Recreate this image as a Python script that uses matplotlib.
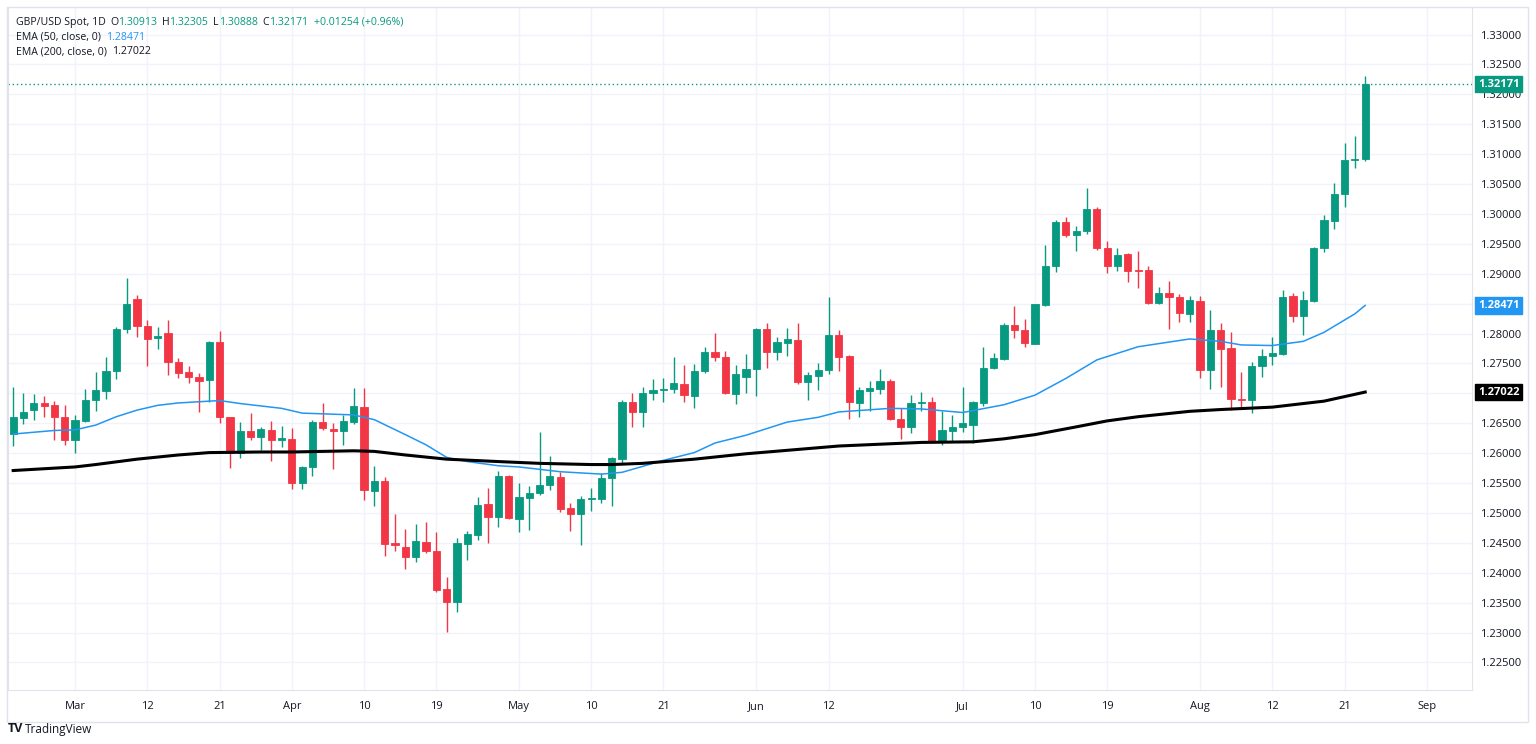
import numpy as np
import matplotlib
matplotlib.use("Agg")
import matplotlib.pyplot as plt
from matplotlib.patches import Rectangle
from matplotlib.transforms import blended_transform_factory

plt.rcParams['font.family'] = ['Open Sans', 'DejaVu Sans']

# daily GBP/USD candles, first bar 2024-02-22, weekdays only
start_date = '2024-02-22'
opens = [1.26323, 1.26596, 1.26719, 1.26847, 1.26803, 1.26607, 1.26223, 1.26530, 1.26881, 1.27047,
         1.27376, 1.28072, 1.28574, 1.28128, 1.27928, 1.28006, 1.27526, 1.27354, 1.27276, 1.27225,
         1.27860, 1.26607, 1.26004, 1.26367, 1.26267, 1.26389, 1.26222, 1.26245, 1.25509, 1.25766,
         1.26529, 1.26406, 1.26378, 1.26529, 1.26779, 1.25370, 1.25537, 1.24496, 1.24429, 1.24267,
         1.24512, 1.24368, 1.23733, 1.23504, 1.24485, 1.24629, 1.25142, 1.24930, 1.25621, 1.24897,
         1.25253, 1.25331, 1.25465, 1.25604, 1.25081, 1.24975, 1.25237, 1.25237, 1.25582, 1.25905,
         1.26857, 1.26685, 1.27002, 1.27052, 1.27075, 1.27153, 1.26958, 1.27375, 1.27693, 1.27615,
         1.26986, 1.27281, 1.27404, 1.28078, 1.27699, 1.27850, 1.27889, 1.27193, 1.27298, 1.27388,
         1.27978, 1.27621, 1.26847, 1.27048, 1.27070, 1.27204, 1.26569, 1.26441, 1.26847, 1.26853,
         1.26207, 1.26379, 1.26441, 1.26479, 1.26835, 1.27420, 1.27577, 1.28140, 1.28068, 1.27834,
         1.28480, 1.29137, 1.29867, 1.29650, 1.29716, 1.30084, 1.29438, 1.29137, 1.29332, 1.29065,
         1.29059, 1.28508, 1.28680, 1.28613, 1.28335, 1.28547, 1.27388, 1.28056, 1.27756, 1.26903,
         1.26894, 1.27451, 1.27618, 1.27651, 1.28631, 1.28286, 1.28553, 1.29428, 1.29890, 1.30341,
         1.30898, 1.30913]
highs = [1.27103, 1.27003, 1.26992, 1.26964, 1.26875, 1.26814, 1.26635, 1.27070, 1.27354, 1.27605,
         1.28106, 1.28930, 1.28646, 1.28228, 1.28106, 1.28228, 1.27588, 1.27465, 1.27337, 1.27883,
         1.28039, 1.26613, 1.26520, 1.26679, 1.26434, 1.26545, 1.26456, 1.26423, 1.25788, 1.26557,
         1.26835, 1.26501, 1.26640, 1.27086, 1.27086, 1.25788, 1.25599, 1.24991, 1.24730, 1.24819,
         1.24852, 1.24685, 1.23928, 1.24579, 1.24696, 1.25264, 1.25420, 1.25699, 1.25632, 1.25509,
         1.25443, 1.26351, 1.25955, 1.25682, 1.25164, 1.25276, 1.25415, 1.25671, 1.25933, 1.26891,
         1.27002, 1.27114, 1.27247, 1.27259, 1.27604, 1.27470, 1.27498, 1.27771, 1.28005, 1.27704,
         1.27470, 1.27660, 1.28085, 1.28173, 1.27939, 1.28089, 1.28173, 1.27365, 1.27516, 1.28607,
         1.28061, 1.27638, 1.27103, 1.27209, 1.27404, 1.27237, 1.26753, 1.26975, 1.27025, 1.26936,
         1.26702, 1.26646, 1.27114, 1.26875, 1.27771, 1.27682, 1.28173, 1.28457, 1.28246, 1.28500,
         1.29482, 1.29900, 1.29950, 1.29800, 1.30440, 1.30123, 1.29549, 1.29427, 1.29349, 1.29382,
         1.29126, 1.28780, 1.28881, 1.28669, 1.28636, 1.28636, 1.28396, 1.28179, 1.28029, 1.27355,
         1.27517, 1.27740, 1.27941, 1.28732, 1.28676, 1.28715, 1.29456, 1.29979, 1.30514, 1.31182,
         1.31305, 1.32305]
lows = [1.26123, 1.26491, 1.26557, 1.26613, 1.26223, 1.26129, 1.26000, 1.26520, 1.26713, 1.26908,
        1.27237, 1.28017, 1.27950, 1.27460, 1.27744, 1.27309, 1.27253, 1.27181, 1.26684, 1.26852,
        1.26506, 1.25759, 1.25926, 1.26223, 1.26055, 1.25866, 1.26111, 1.25409, 1.25409, 1.25626,
        1.26389, 1.25743, 1.26133, 1.26495, 1.25209, 1.25120, 1.24273, 1.24368, 1.24061, 1.24184,
        1.24329, 1.23671, 1.23003, 1.23337, 1.24217, 1.24551, 1.24496, 1.24774, 1.24897, 1.24674,
        1.24719, 1.25298, 1.25387, 1.25019, 1.24696, 1.24462, 1.25031, 1.25175, 1.25109, 1.25833,
        1.26434, 1.26445, 1.26891, 1.26863, 1.27002, 1.26863, 1.26763, 1.27336, 1.27548, 1.26991,
        1.26819, 1.27013, 1.26953, 1.27432, 1.27560, 1.27627, 1.27165, 1.26881, 1.27059, 1.27326,
        1.27382, 1.26569, 1.26602, 1.26708, 1.26998, 1.26558, 1.26235, 1.26335, 1.26708, 1.26168,
        1.26140, 1.26195, 1.26351, 1.26168, 1.26796, 1.27410, 1.27550, 1.27923, 1.27772, 1.27825,
        1.28469, 1.29026, 1.29622, 1.29388, 1.29672, 1.29404, 1.29009, 1.29048, 1.28870, 1.28770,
        1.28502, 1.28502, 1.28073, 1.28201, 1.28201, 1.27265, 1.27076, 1.27104, 1.26725, 1.26760,
        1.26671, 1.27272, 1.27478, 1.27640, 1.28186, 1.27980, 1.28520, 1.29372, 1.29745, 1.30113,
        1.30765, 1.30888]
closes = [1.26613, 1.26697, 1.26847, 1.26791, 1.26602, 1.26223, 1.26557, 1.26892, 1.27059, 1.27382,
          1.28078, 1.28496, 1.28134, 1.27911, 1.27956, 1.27521, 1.27343, 1.27282, 1.27209, 1.27860,
          1.26602, 1.26004, 1.26367, 1.26272, 1.26400, 1.26222, 1.26250, 1.25509, 1.25771, 1.26518,
          1.26417, 1.26373, 1.26545, 1.26791, 1.25387, 1.25537, 1.24485, 1.24457, 1.24256, 1.24535,
          1.24362, 1.23716, 1.23504, 1.24490, 1.24641, 1.25131, 1.24930, 1.25621, 1.24908, 1.25264,
          1.25337, 1.25471, 1.25621, 1.25075, 1.24975, 1.25231, 1.25253, 1.25588, 1.25916, 1.26857,
          1.26690, 1.27002, 1.27058, 1.27080, 1.27169, 1.26969, 1.27375, 1.27693, 1.27615, 1.27002,
          1.27320, 1.27409, 1.28078, 1.27699, 1.27861, 1.27906, 1.27193, 1.27304, 1.27393, 1.27978,
          1.27616, 1.26853, 1.27053, 1.27087, 1.27204, 1.26569, 1.26441, 1.26842, 1.26858, 1.26207,
          1.26390, 1.26441, 1.26501, 1.26853, 1.27426, 1.27593, 1.28145, 1.28062, 1.27850, 1.28491,
          1.29137, 1.29872, 1.29650, 1.29716, 1.30084, 1.29427, 1.29137, 1.29315, 1.29053, 1.29053,
          1.28508, 1.28675, 1.28619, 1.28346, 1.28558, 1.27388, 1.28056, 1.27750, 1.26909, 1.26887,
          1.27462, 1.27629, 1.27673, 1.28620, 1.28286, 1.28565, 1.29439, 1.29901, 1.30336, 1.30904,
          1.30913, 1.32171]

# EMA values read at selected bars
ema50_bar = [0, 4, 6, 8, 10, 12, 14, 16, 18, 20, 22, 26, 28, 33, 35, 38, 40, 42, 44, 47, 49, 53,
             57, 59, 61, 63, 66, 68, 71, 75, 78, 80, 85, 88, 92, 96, 99, 102, 105, 109, 114, 117,
             119, 122, 125, 127, 130, 131]
ema50_val = [1.2632, 1.2638, 1.2639, 1.2647, 1.2661, 1.2672, 1.2680, 1.2684, 1.2686, 1.2688,
             1.2683, 1.2675, 1.2667, 1.2664, 1.2656, 1.2631, 1.2614, 1.2593, 1.2586, 1.2579,
             1.2577, 1.2569, 1.2565, 1.2568, 1.2578, 1.2588, 1.2601, 1.2617, 1.2630, 1.2652,
             1.2660, 1.2669, 1.2675, 1.2674, 1.2668, 1.2681, 1.2697, 1.2725, 1.2756, 1.2778,
             1.2791, 1.2787, 1.2781, 1.2780, 1.2787, 1.2802, 1.2833, 1.28471]
ema200_bar = [0, 6, 8, 12, 16, 19, 24, 27, 33, 35, 38, 42, 47, 51, 56, 58, 61, 66, 71, 80, 88, 93,
              96, 99, 103, 106, 109, 114, 117, 122, 127, 131]
ema200_val = [1.2571, 1.2577, 1.2581, 1.2590, 1.2597, 1.2601, 1.2602, 1.2602, 1.2604, 1.2603,
              1.2597, 1.2590, 1.2586, 1.2583, 1.2581, 1.2581, 1.2583, 1.2590, 1.2599, 1.2612,
              1.2618, 1.2619, 1.2624, 1.2631, 1.2644, 1.2654, 1.2661, 1.2670, 1.2673, 1.2677,
              1.2687, 1.27022]

tick_dates = ['2024-03-01', '2024-03-12', '2024-03-21', '2024-04-01', '2024-04-10', '2024-04-19',
              '2024-05-01', '2024-05-10', '2024-05-21', '2024-06-03', '2024-06-12', '2024-07-01',
              '2024-07-10', '2024-07-19', '2024-08-01', '2024-08-12', '2024-08-21', '2024-09-02']
tick_labels = ['Mar', '12', '21', 'Apr', '10', '19', 'May', '10', '21', 'Jun', '12', 'Jul',
               '10', '19', 'Aug', '12', '21', 'Sep']

GREEN = '#089981'
RED = '#f23645'
BLUE = '#2196f3'
TXT = '#131722'
GRID = '#f0f3fa'
BORDER = '#e0e3eb'

W, H = 1536, 744
fig = plt.figure(figsize=(W / 100, H / 100), dpi=100)
ax = fig.add_axes([7.5 / W, 54 / H, (1472 - 7.5) / W, 683 / H])

o = np.array(opens)
h = np.array(highs)
l = np.array(lows)
c = np.array(closes)
x = np.arange(len(o))
cols = np.where(c >= o, GREEN, RED)

ax.vlines(x, l, h, colors=cols, linewidth=1, zorder=3)
body = np.maximum(np.abs(c - o), 0.00012)
ax.bar(x, body, bottom=np.minimum(o, c), width=0.7, color=cols, edgecolor=cols,
       linewidth=0.6, zorder=4)

ax.plot(ema50_bar, ema50_val, color=BLUE, linewidth=1.1, zorder=5)
ax.plot(ema200_bar, ema200_val, color='black', linewidth=2.2, zorder=5)
ax.axhline(closes[-1], color=GREEN, linestyle=(0, (1, 2)), linewidth=1, zorder=2)

ax.set_xlim(-0.55, 141.35)
ax.set_ylim(1.22040, 1.33461)

tick_pos = [np.busday_count(start_date, d) for d in tick_dates]
ax.set_xticks(tick_pos)
ax.set_xticklabels(tick_labels)
yt = np.arange(1.225, 1.3301, 0.005)
ax.set_yticks(yt)
ax.set_yticklabels([f'{v:.5f}' for v in yt])
ax.yaxis.tick_right()
ax.tick_params(axis='both', length=0, labelsize=8, labelcolor=TXT)
ax.tick_params(axis='y', pad=6)
ax.tick_params(axis='x', pad=8)
ax.grid(True, color=GRID, linewidth=1, zorder=0)
ax.set_axisbelow(True)
for s in ax.spines.values():
    s.set_color(BORDER)
ax.spines['top'].set_visible(False)

# outer frame around chart, price scale and time scale
fig.patches.append(Rectangle((7 / W, (H - 722) / H), (1528 - 7) / W, (722 - 7) / H,
                             transform=fig.transFigure, fill=False, edgecolor=BORDER,
                             linewidth=1))

# last value tags on price scale
tr = blended_transform_factory(ax.transAxes, ax.transData)
for val, bg in [(closes[-1], GREEN), (ema50_val[-1], BLUE), (ema200_val[-1], 'black')]:
    ax.text(1.004, val, f'{val:.5f}', transform=tr, ha='left', va='center', fontsize=8,
            color='white', fontweight='bold', zorder=10, clip_on=False,
            bbox=dict(boxstyle='square,pad=0.25', facecolor=bg, edgecolor=bg))

# legend header with coloured values
HFS = 7.6


def chain(parts, x0, y0):
    prev = fig.text(x0 / W, 1 - y0 / H, parts[0][0], color=parts[0][1], fontsize=HFS,
                    va='center', ha='left')
    for s, col, gap in parts[1:]:
        prev = ax.annotate(s, xy=(1, 0.5), xycoords=prev, xytext=(gap, 0),
                           textcoords='offset points', color=col, fontsize=HFS,
                           va='center', ha='left', annotation_clip=False)


chain([('GBP/USD Spot, 1D', TXT), ('O', TXT, 3), ('1.30913', GREEN, 0), ('H', TXT, 3.5),
       ('1.32305', GREEN, 0), ('L', TXT, 3.5), ('1.30888', GREEN, 0), ('C', TXT, 3.5),
       ('1.32171', GREEN, 0), ('+0.01254 (+0.96%)', GREEN, 4)], 16, 22.5)
chain([('EMA (50, close, 0)', TXT), ('1.28471', BLUE, 3.5)], 16, 37)
chain([('EMA (200, close, 0)', TXT), ('1.27022', TXT, 3.5)], 16, 52)

fig.text(8 / W, 1 - 729 / H, 'TV', fontsize=9, fontweight='bold', color=TXT, va='center')
fig.text(25 / W, 1 - 729 / H, 'TradingView', fontsize=8.5, color=TXT, va='center')

fig.savefig('out.png', dpi=100, facecolor='white')
